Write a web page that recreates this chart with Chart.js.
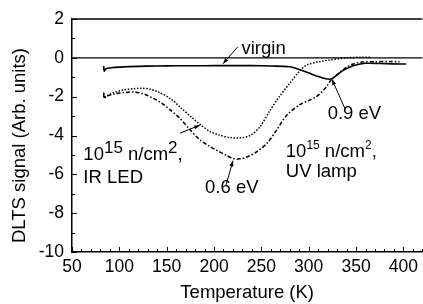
<!DOCTYPE html>
<html>
<head>
<meta charset="UTF-8">
<title>DLTS</title>
<script src="https://cdn.jsdelivr.net/npm/chart.js"></script>
<style>
    body { margin: 0; background: #fff; }
    canvas { display: block; }
</style>
</head>
<body>
<canvas id="dlts" width="423" height="304"></canvas>
<script>
// data (temperature in K, signal in arb. units)
const virginTemp   = [83.5, 84, 86, 90, 100, 120, 140, 160, 180, 200, 220, 240, 260, 280, 290, 301, 311, 318, 322, 325, 330, 336, 343, 350, 360, 375, 390, 403];
const virginSignal = [-0.42, -0.68, -0.56, -0.52, -0.48, -0.44, -0.42, -0.41, -0.41, -0.4, -0.4, -0.4, -0.42, -0.46, -0.6, -0.8, -0.98, -1.08, -1.1, -1.06, -0.88, -0.66, -0.48, -0.37, -0.28, -0.29, -0.31, -0.32];

const irTemp   = [83.5, 84, 86, 94, 104, 115, 124, 133, 142, 154, 166, 176, 186, 196, 206, 216, 227, 238, 248, 259, 269, 280, 290, 295, 300, 311, 322, 340, 355, 366];
const irSignal = [-1.8, -2.08, -1.98, -1.8, -1.66, -1.59, -1.57, -1.62, -1.78, -2.1, -2.62, -3.05, -3.45, -3.8, -3.98, -4.1, -4.13, -4.0, -3.58, -2.72, -2.0, -1.31, -0.7, -0.46, -0.33, -0.2, -0.11, 0.0, 0.03, 0.03];

const uvTemp   = [83.5, 84, 86, 95, 105, 115, 125, 136, 145, 154, 164, 175, 185, 195, 205, 213, 220, 228, 236, 245, 256, 266, 277, 290, 300, 308, 315, 320, 324, 330, 338, 346, 356, 370, 385, 396];
const uvSignal = [-1.8, -2.08, -1.98, -1.86, -1.79, -1.76, -1.85, -2.09, -2.35, -2.69, -3.12, -3.72, -4.22, -4.55, -4.82, -5.02, -5.18, -5.2, -5.08, -4.84, -4.4, -3.72, -2.95, -2.43, -2.2, -2.0, -1.7, -1.4, -1.12, -0.86, -0.55, -0.33, -0.22, -0.2, -0.19, -0.2];

const xTickValues = [50, 100, 150, 200, 250, 300, 350, 400];
const yTickValues = [-10, -8, -6, -4, -2, 0, 2];

const FONT = 'Arial, "Liberation Sans", sans-serif';

function zip(xs, ys) {
    return xs.map((t, i) => ({ x: t, y: ys[i] }));
}

// inward ticks, top frame, zero line, y title and the text labels
const extras = {
    id: 'extras',
    afterDraw(chart) {
        const { ctx, chartArea: a, scales: { x, y } } = chart;
        const X = v => x.getPixelForValue(v);
        const Y = v => y.getPixelForValue(v);
        ctx.save();
        ctx.strokeStyle = '#000';
        ctx.fillStyle = '#000';

        ctx.lineWidth = 1.5;
        ctx.beginPath();
        ctx.moveTo(a.left, a.top);
        ctx.lineTo(a.right, a.top);
        ctx.stroke();

        ctx.lineWidth = 1.2;
        ctx.beginPath();
        ctx.moveTo(a.left, Y(0));
        ctx.lineTo(a.right, Y(0));
        ctx.stroke();

        ctx.lineWidth = 1;
        ctx.beginPath();
        for (let t = 50; t <= 420; t += 10) {
            const len = t % 50 === 0 ? 5 : 3;
            const px = Math.round(X(t)) + 0.5;
            ctx.moveTo(px, a.bottom);
            ctx.lineTo(px, a.bottom - len);
        }
        for (let v = -10; v <= 2; v += 1) {
            const len = v % 2 === 0 ? 5 : 3;
            const py = Math.round(Y(v)) + 0.5;
            ctx.moveTo(a.left, py);
            ctx.lineTo(a.left + len, py);
        }
        ctx.stroke();

        // y axis title, a little below the axis centre as in the figure
        ctx.save();
        ctx.translate(20, (a.top + a.bottom) / 2 + 10);
        ctx.rotate(-Math.PI / 2);
        ctx.font = '18.5px ' + FONT;
        ctx.textAlign = 'center';
        ctx.textBaseline = 'middle';
        ctx.fillText('DLTS signal (Arb. units)', 0, 0);
        ctx.restore();

        function text(str, t, v, size) {
            ctx.font = size + 'px ' + FONT;
            ctx.textBaseline = 'alphabetic';
            ctx.fillText(str, X(t), Y(v));
        }
        // pieces: [string, size, raise]
        function rich(parts, t, v) {
            let px = X(t);
            const py = Y(v);
            ctx.textBaseline = 'alphabetic';
            parts.forEach(p => {
                ctx.font = p[1] + 'px ' + FONT;
                ctx.fillText(p[0], px, py - p[2]);
                px += ctx.measureText(p[0]).width;
            });
        }
        function arrow(t1, v1, t2, v2) {
            const x1 = X(t1), y1 = Y(v1), x2 = X(t2), y2 = Y(v2);
            const ang = Math.atan2(y2 - y1, x2 - x1);
            ctx.lineWidth = 1;
            ctx.beginPath();
            ctx.moveTo(x1, y1);
            ctx.lineTo(x2, y2);
            ctx.stroke();
            ctx.beginPath();
            ctx.moveTo(x2, y2);
            ctx.lineTo(x2 - 6 * Math.cos(ang - 0.35), y2 - 6 * Math.sin(ang - 0.35));
            ctx.lineTo(x2 - 6 * Math.cos(ang + 0.35), y2 - 6 * Math.sin(ang + 0.35));
            ctx.closePath();
            ctx.fill();
        }

        text('virgin', 229, 0.2, 18.5);
        arrow(225, 0.56, 209.5, -0.3);

        rich([['10', 18.5, 0], ['15', 17, 7], [' n/cm', 18.5, 0], ['2', 17, 7], [',', 18.5, 0]], 62, -5.27);
        text('IR LED', 62, -6.45, 18.5);
        arrow(164, -3.88, 185, -3.47);

        text('0.6 eV', 190.5, -6.97, 18.5);
        arrow(212.6, -6.56, 220, -5.3);

        text('0.9 eV', 320, -3.15, 18.5);
        arrow(338, -2.59, 324.5, -1.1);

        rich([['10', 18.5, 0], ['15', 12, 8], [' n/cm', 18.5, 0], ['2', 12, 8], [',', 18.5, 0]], 275.8, -5.11);
        text('UV lamp', 275.8, -6.14, 18.5);

        ctx.restore();
    }
};

const ctx = document.getElementById('dlts').getContext('2d');
new Chart(ctx, {
    type: 'line',
    data: {
        datasets: [
            {
                label: 'virgin',
                data: zip(virginTemp, virginSignal),
                borderColor: '#000',
                borderWidth: 1.6,
                pointRadius: 0,
                tension: 0.3
            },
            {
                label: 'IR LED',
                data: zip(irTemp, irSignal),
                borderColor: '#000',
                borderWidth: 1.5,
                borderDash: [1.5, 1.6],
                pointRadius: 0,
                tension: 0.3
            },
            {
                label: 'UV lamp',
                data: zip(uvTemp, uvSignal),
                borderColor: '#000',
                borderWidth: 1.5,
                borderDash: [4, 2, 1.5, 2],
                pointRadius: 0,
                tension: 0.3
            }
        ]
    },
    options: {
        responsive: false,
        animation: false,
        devicePixelRatio: 1,
        layout: { padding: { top: 19, right: 0, left: 0, bottom: 0 } },
        plugins: { legend: { display: false }, tooltip: { enabled: false } },
        scales: {
            x: {
                type: 'linear',
                min: 50,
                max: 420,
                afterBuildTicks: s => { s.ticks = xTickValues.map(v => ({ value: v })); },
                afterFit: s => { s.height = 52; },
                grid: { display: false, drawTicks: false },
                border: { display: true, color: '#000', width: 1.5 },
                ticks: {
                    color: '#000',
                    font: { size: 17.5, family: FONT },
                    padding: 5,
                    autoSkip: false,
                    maxRotation: 0
                },
                title: {
                    display: true,
                    text: 'Temperature (K)',
                    color: '#000',
                    font: { size: 18.5, family: FONT },
                    padding: { top: 0, bottom: 0 }
                }
            },
            y: {
                type: 'linear',
                min: -10,
                max: 2,
                afterBuildTicks: s => { s.ticks = yTickValues.map(v => ({ value: v })); },
                afterFit: s => { s.width = 72; },
                grid: { display: false, drawTicks: false },
                border: { display: true, color: '#000', width: 1.5 },
                ticks: {
                    color: '#000',
                    font: { size: 17.5, family: FONT },
                    padding: 8
                },
                title: { display: false }
            }
        }
    },
    plugins: [extras]
});
</script>
</body>
</html>
